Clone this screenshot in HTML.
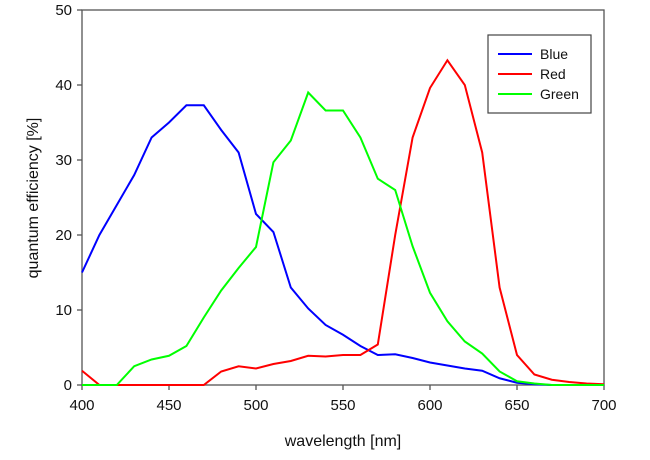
<!DOCTYPE html><html><head><style>body{margin:0;background:#fff}svg{font-family:"Liberation Sans",sans-serif}</style></head><body>
<svg id="s" width="650" height="455" xmlns="http://www.w3.org/2000/svg">
<rect x="82" y="10" width="522" height="375" fill="none" stroke="#555" stroke-width="1.3"/>
<g id="t" stroke="#555" stroke-width="1.3"></g>
<g id="l" font-size="15" fill="#111"></g>
<text x="343" y="446" font-size="16" text-anchor="middle" fill="#111">wavelength [nm]</text>
<text transform="translate(38,198) rotate(-90)" font-size="16" text-anchor="middle" fill="#111">quantum efficiency [%]</text>
<g id="c" fill="none" stroke-width="2"></g>
<rect x="488" y="35" width="103" height="78" fill="#fff" stroke="#444" stroke-width="1.2"/>
<line x1="498" y1="54" x2="532" y2="54" stroke="#00f" stroke-width="2"/>
<line x1="498" y1="74" x2="532" y2="74" stroke="#f00" stroke-width="2"/>
<line x1="498" y1="94" x2="532" y2="94" stroke="#0f0" stroke-width="2"/>
<text x="540" y="59" font-size="14" fill="#111">Blue</text>
<text x="540" y="79" font-size="14" fill="#111">Red</text>
<text x="540" y="99" font-size="14" fill="#111">Green</text>
</svg>
<script>
var X=n=>82+(n-400)*1.74,Y=v=>385-v*7.5,ns="http://www.w3.org/2000/svg";
function el(p,t,a,txt){var e=document.createElementNS(ns,t);for(var k in a)e.setAttribute(k,a[k]);if(txt!=null)e.textContent=txt;document.getElementById(p).appendChild(e);}
for(var n=400;n<=700;n+=50){el('t','line',{x1:X(n),x2:X(n),y1:385,y2:390});el('l','text',{x:X(n),y:410,'text-anchor':'middle'},n);}
for(var v=0;v<=50;v+=10){el('t','line',{x1:77,x2:82,y1:Y(v),y2:Y(v)});el('l','text',{x:72,y:Y(v)+5,'text-anchor':'end'},v);}
var d={"#00f":[15,20,24,28,33,35,37.3,37.3,34,31,22.8,20.4,13,10.2,8,6.7,5.2,4,4.1,3.6,3,2.6,2.2,1.9,0.9,0.3,0.1,0,0,0,0],
"#f00":[1.9,0,0,0,0,0,0,0,1.8,2.5,2.2,2.8,3.2,3.9,3.8,4,4,5.4,20,33,39.6,43.3,40,31,13,4,1.4,0.7,0.4,0.2,0.1],
"#0f0":[0,0,0,2.5,3.4,3.9,5.2,9,12.6,15.6,18.4,29.7,32.6,39,36.6,36.6,33,27.5,26,18.5,12.3,8.5,5.8,4.2,1.8,0.5,0.2,0,0,0,0]};
for(var c of ["#00f","#f00","#0f0"])el('c','polyline',{stroke:c,points:d[c].map((v,i)=>X(400+10*i)+","+Y(v)).join(" ")});
</script></body></html>
